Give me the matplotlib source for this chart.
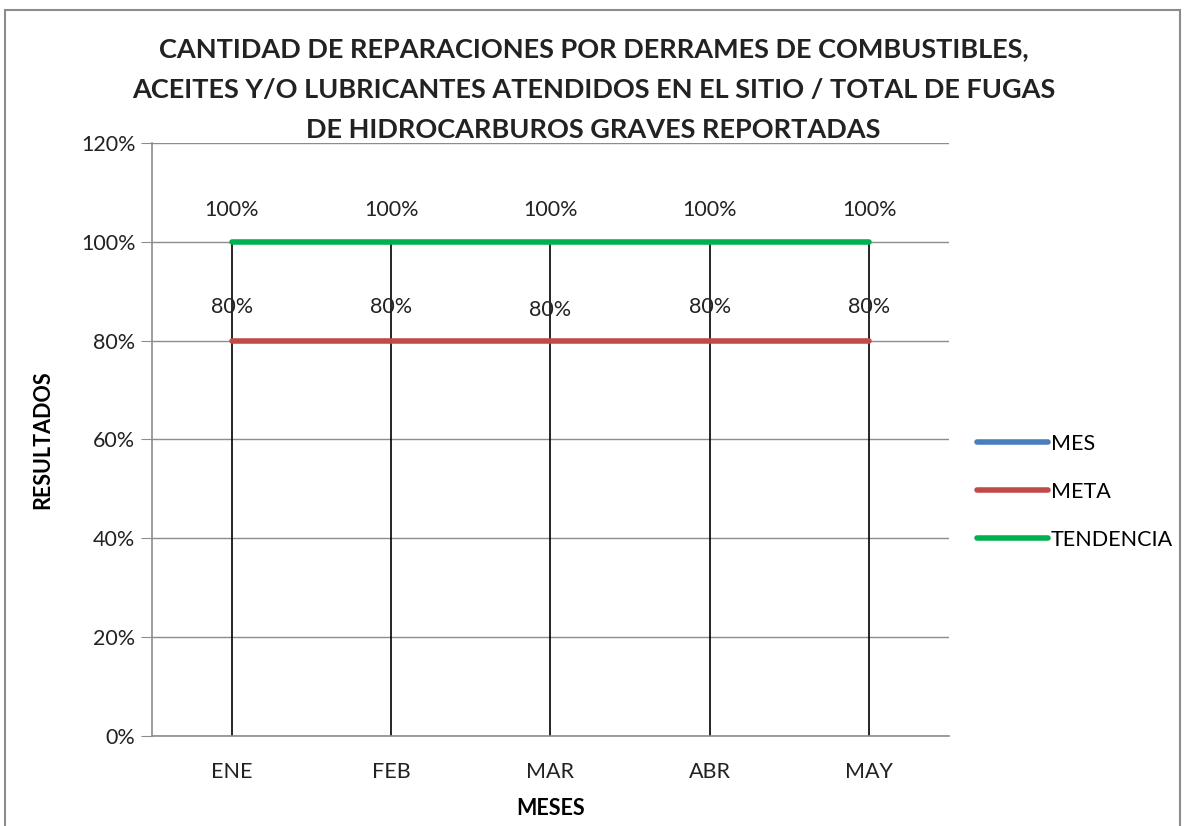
import numpy as np
import matplotlib.pyplot as plt
from matplotlib.patches import Rectangle
from matplotlib.ticker import PercentFormatter

meses = ["ENE", "FEB", "MAR", "ABR", "MAY"]
mes = [np.nan, np.nan, np.nan, np.nan, np.nan]
meta = [0.80, 0.80, 0.80, 0.80, 0.80]
tendencia = [1.00, 1.00, 1.00, 1.00, 1.00]

plt.rcParams['font.family'] = ['Lato', 'DejaVu Sans']

fig = plt.figure(figsize=(11.87, 8.26), dpi=100)
ax = fig.add_axes([152/1187, 1 - 736/826, (949-152)/1187, (736-143)/826])

# chart frame
fig.patches.append(Rectangle((5/1187, -0.05), 1175/1187, 1.05 - 10/826, transform=fig.transFigure,
                             fill=False, edgecolor='#8c8c8c', linewidth=1.5))

x = np.arange(len(meses))

# drop lines
tops = np.nanmax(np.vstack([mes, meta, tendencia]), axis=0)
ax.vlines(x, 0, tops, colors='black', linewidth=1.2, zorder=2)

ax.plot(x, mes, color='#4a7ebb', linewidth=4, label='MES', solid_capstyle='round', zorder=3)
ax.plot(x, meta, color='#be4b48', linewidth=4, label='META', solid_capstyle='round', zorder=3)
ax.plot(x, tendencia, color='#00b050', linewidth=4, label='TENDENCIA', solid_capstyle='round', zorder=3)

for i in range(len(meses)):
    ax.text(x[i], tendencia[i] + 0.065, "%d%%" % round(tendencia[i]*100), ha='center', va='center', fontsize=15.5, color='#222222')
    dy = 0.068 if i != 2 else 0.063
    ax.text(x[i], meta[i] + dy, "%d%%" % round(meta[i]*100), ha='center', va='center', fontsize=15.5, color='#222222')

ax.set_xlim(-0.5, len(meses) - 0.5)
ax.set_ylim(0, 1.2)
ax.set_yticks(np.arange(0, 1.21, 0.2))
ax.yaxis.set_major_formatter(PercentFormatter(1.0, decimals=0))
ax.set_xticks(x)
ax.set_xticklabels(meses)
ax.grid(axis='y', color='#8c8c8c', linewidth=1)
ax.set_axisbelow(True)
for s in ['top', 'right']:
    ax.spines[s].set_visible(False)
for s in ['left', 'bottom']:
    ax.spines[s].set_color('#8c8c8c')
    ax.spines[s].set_linewidth(1.2)
ax.tick_params(axis='y', length=8, color='#8c8c8c', labelsize=15.5, labelcolor='#222222', pad=4)
ax.tick_params(axis='x', length=0, labelsize=15.5, labelcolor='#222222', pad=19)

ax.set_xlabel('MESES', fontsize=15.5, fontweight='bold', labelpad=11)
ax.set_ylabel('RESULTADOS', fontsize=15.5, fontweight='bold', labelpad=20)

fig.text(0.50, 1 - 49/826, "CANTIDAD DE REPARACIONES POR DERRAMES DE COMBUSTIBLES,", ha='center', va='center', fontsize=19.5, fontweight='bold', color='#222222')
fig.text(0.50, 1 - 90/826, "ACEITES Y/O LUBRICANTES ATENDIDOS EN EL SITIO / TOTAL DE FUGAS", ha='center', va='center', fontsize=19.5, fontweight='bold', color='#222222')
fig.text(0.50, 1 - 130/826, "DE HIDROCARBUROS GRAVES REPORTADAS", ha='center', va='center', fontsize=19.5, fontweight='bold', color='#222222')

ax.legend(loc='center left', bbox_to_anchor=(958/1187, 1 - 492/826), bbox_transform=fig.transFigure,
          frameon=False, fontsize=15.5, handlelength=3.3, handletextpad=0.1, labelspacing=1.3)

fig.savefig('out.png', dpi=100)
